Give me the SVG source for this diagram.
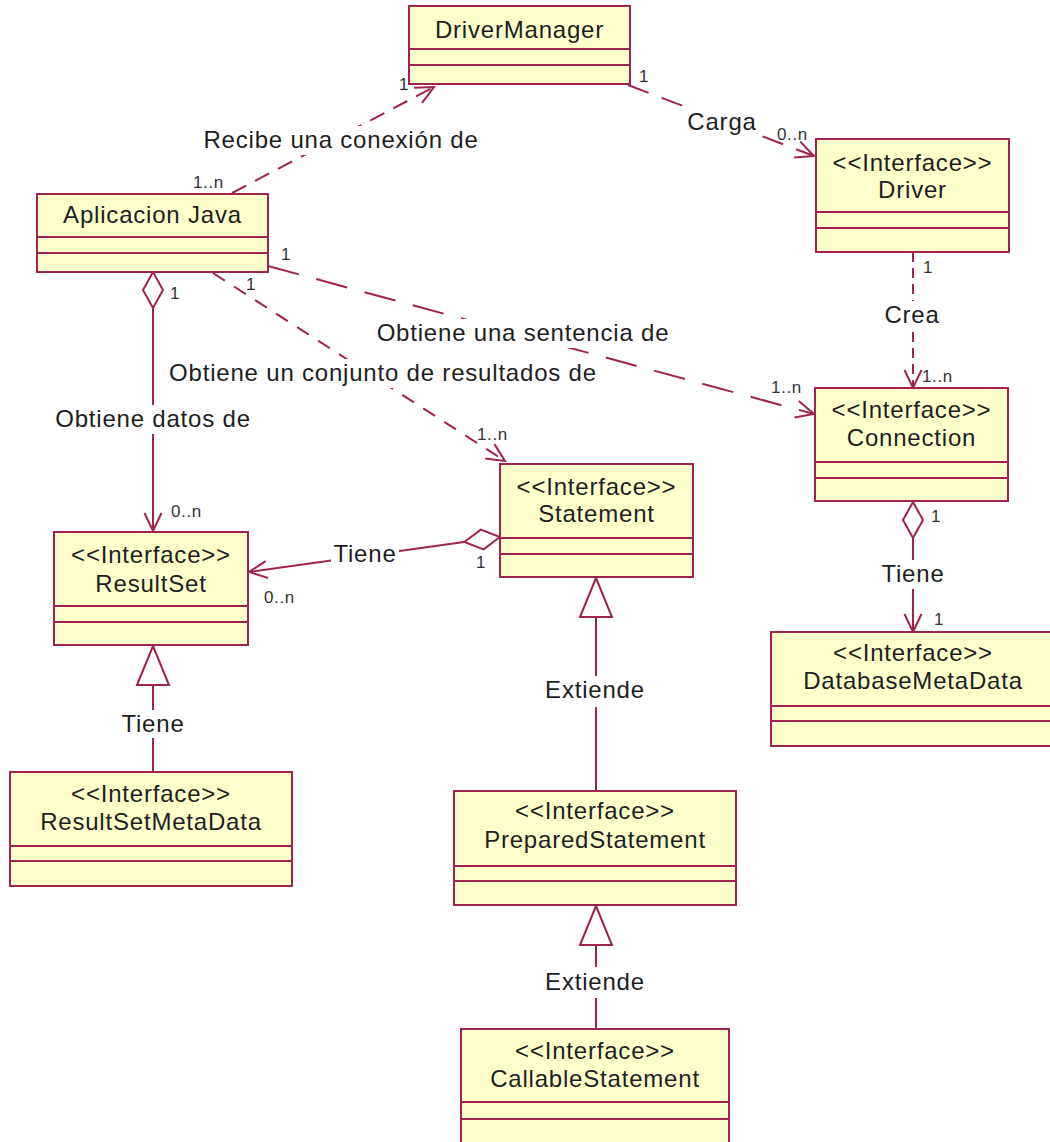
<svg xmlns="http://www.w3.org/2000/svg" width="1050" height="1142" viewBox="0 0 1050 1142">
  <style>
    .box { fill: #FFFFCC; stroke: #A0224E; stroke-width: 2; }
    .sep { stroke: #A0224E; stroke-width: 2; }
    .t { font-family: "Liberation Sans", Arial, sans-serif; font-size: 24px; fill: #1e1e1e; text-anchor: middle; letter-spacing: 0.8px; }
    .m { font-family: "Liberation Sans", Arial, sans-serif; font-size: 17px; fill: #333333; letter-spacing: 0.6px; }
    .ln { fill: none; stroke: #A0224E; stroke-width: 2; }
    .bg { fill: #FFFFFF; }
  </style>
  <defs>
    <!-- open arrowhead for navigable ends -->
    <marker id="open" markerUnits="userSpaceOnUse" markerWidth="24" markerHeight="24" refX="18" refY="8.5" orient="auto" overflow="visible">
      <path d="M0,0 L18,8.5 L0,17" fill="none" stroke="#A0224E" stroke-width="2" stroke-dasharray="none"/>
    </marker>
    <!-- hollow diamond for aggregation -->
    <marker id="diamond" markerUnits="userSpaceOnUse" markerWidth="40" markerHeight="24" refX="0" refY="10" orient="auto" overflow="visible">
      <path d="M0,10 L18,0 L36,10 L18,20 Z" fill="#FFFFFF" stroke="#A0224E" stroke-width="2"/>
    </marker>
    <!-- hollow triangle for generalization -->
    <marker id="hollow" markerUnits="userSpaceOnUse" markerWidth="42" markerHeight="34" refX="39" refY="16" orient="auto" overflow="visible">
      <path d="M0,0 L39,16 L0,32 Z" fill="#FFFFFF" stroke="#A0224E" stroke-width="2"/>
    </marker>
  </defs>

  <rect width="1050" height="1142" fill="#FFFFFF"/>

  <g id="connectors">
    <!-- dependencies -->
    <path class="ln" d="M232,193 L434,87" stroke-dasharray="16 10" marker-end="url(#open)"/>
    <path class="ln" d="M628,85 L814,156" stroke-dasharray="22 14" marker-end="url(#open)"/>
    <path class="ln" d="M913,252 L913,388" stroke-dasharray="10 6" marker-end="url(#open)"/>
    <path class="ln" d="M268,266 L814,414" stroke-dasharray="32 18" marker-end="url(#open)"/>
    <path class="ln" d="M213,273 L505,461" stroke-dasharray="14 11" marker-end="url(#open)"/>
    <!-- aggregations -->
    <path class="ln" d="M153,272 L153,531" marker-start="url(#diamond)" marker-end="url(#open)"/>
    <path class="ln" d="M500,537 L249,572" marker-start="url(#diamond)" marker-end="url(#open)"/>
    <path class="ln" d="M913,502 L913,632" marker-start="url(#diamond)" marker-end="url(#open)"/>
    <!-- generalizations -->
    <path class="ln" d="M153,771 L153,646" marker-end="url(#hollow)"/>
    <path class="ln" d="M596,790 L596,578" marker-end="url(#hollow)"/>
    <path class="ln" d="M596,1029 L596,906" marker-end="url(#hollow)"/>

    <!-- label backgrounds break the lines -->
    <rect class="bg" x="201" y="126" width="280" height="29"/>
    <rect class="bg" x="684" y="108" width="76" height="29"/>
    <rect class="bg" x="884" y="301" width="58" height="29"/>
    <rect class="bg" x="377" y="319" width="292" height="29"/>
    <rect class="bg" x="169" y="359" width="428" height="29"/>
    <rect class="bg" x="54" y="405" width="198" height="29"/>
    <rect class="bg" x="331" y="540" width="68" height="29"/>
    <rect class="bg" x="879" y="560" width="68" height="29"/>
    <rect class="bg" x="119" y="710" width="68" height="28"/>
    <rect class="bg" x="545" y="676" width="100" height="31"/>
    <rect class="bg" x="545" y="967" width="100" height="31"/>

    <!-- association labels -->
    <text class="t" x="341" y="148">Recibe una conexión de</text>
    <text class="t" x="722" y="130">Carga</text>
    <text class="t" x="912" y="323">Crea</text>
    <text class="t" x="523" y="341">Obtiene una sentencia de</text>
    <text class="t" x="383" y="381">Obtiene un conjunto de resultados de</text>
    <text class="t" x="153" y="427">Obtiene datos de</text>
    <text class="t" x="365" y="562">Tiene</text>
    <text class="t" x="913" y="582">Tiene</text>
    <text class="t" x="153" y="732">Tiene</text>
    <text class="t" x="595" y="698">Extiende</text>
    <text class="t" x="595" y="990">Extiende</text>

    <!-- multiplicities -->
    <text class="m" x="193" y="188">1..n</text>
    <text class="m" x="399" y="90">1</text>
    <text class="m" x="639" y="82">1</text>
    <text class="m" x="777" y="140">0..n</text>
    <text class="m" x="923" y="273">1</text>
    <text class="m" x="922" y="382">1..n</text>
    <text class="m" x="771" y="393">1..n</text>
    <text class="m" x="281" y="260">1</text>
    <text class="m" x="246" y="290">1</text>
    <text class="m" x="170" y="299">1</text>
    <text class="m" x="477" y="440">1..n</text>
    <text class="m" x="171" y="517">0..n</text>
    <text class="m" x="264" y="603">0..n</text>
    <text class="m" x="476" y="568">1</text>
    <text class="m" x="931" y="522">1</text>
    <text class="m" x="934" y="625">1</text>
  </g>

  <g id="DriverManager">
    <rect class="box" x="409" y="6" width="221" height="78"/>
    <line class="sep" x1="409" y1="49" x2="630" y2="49"/>
    <line class="sep" x1="409" y1="65" x2="630" y2="65"/>
    <text class="t" x="519.5" y="38">DriverManager</text>
  </g>

  <g id="AplicacionJava">
    <rect class="box" x="37" y="194" width="231" height="78"/>
    <line class="sep" x1="37" y1="237" x2="268" y2="237"/>
    <line class="sep" x1="37" y1="253" x2="268" y2="253"/>
    <text class="t" x="152.5" y="223">Aplicacion Java</text>
  </g>

  <g id="Driver">
    <rect class="box" x="816" y="139" width="193" height="113"/>
    <line class="sep" x1="816" y1="212" x2="1009" y2="212"/>
    <line class="sep" x1="816" y1="228" x2="1009" y2="228"/>
    <text class="t" x="912.5" y="171">&lt;&lt;Interface&gt;&gt;</text>
    <text class="t" x="912.5" y="198">Driver</text>
  </g>

  <g id="Connection">
    <rect class="box" x="815" y="388" width="193" height="113"/>
    <line class="sep" x1="815" y1="462" x2="1008" y2="462"/>
    <line class="sep" x1="815" y1="478" x2="1008" y2="478"/>
    <text class="t" x="911.5" y="418">&lt;&lt;Interface&gt;&gt;</text>
    <text class="t" x="911.5" y="446">Connection</text>
  </g>

  <g id="Statement">
    <rect class="box" x="500" y="464" width="193" height="113"/>
    <line class="sep" x1="500" y1="538" x2="693" y2="538"/>
    <line class="sep" x1="500" y1="554" x2="693" y2="554"/>
    <text class="t" x="596.5" y="495">&lt;&lt;Interface&gt;&gt;</text>
    <text class="t" x="596.5" y="522">Statement</text>
  </g>

  <g id="ResultSet">
    <rect class="box" x="54" y="532" width="194" height="113"/>
    <line class="sep" x1="54" y1="606" x2="248" y2="606"/>
    <line class="sep" x1="54" y1="622" x2="248" y2="622"/>
    <text class="t" x="151" y="563">&lt;&lt;Interface&gt;&gt;</text>
    <text class="t" x="151" y="592">ResultSet</text>
  </g>

  <g id="DatabaseMetaData">
    <rect class="box" x="771" y="632" width="285" height="114"/>
    <line class="sep" x1="771" y1="706" x2="1056" y2="706"/>
    <line class="sep" x1="771" y1="721" x2="1056" y2="721"/>
    <text class="t" x="913" y="661">&lt;&lt;Interface&gt;&gt;</text>
    <text class="t" x="913" y="689">DatabaseMetaData</text>
  </g>

  <g id="ResultSetMetaData">
    <rect class="box" x="10" y="772" width="282" height="114"/>
    <line class="sep" x1="10" y1="846" x2="292" y2="846"/>
    <line class="sep" x1="10" y1="861" x2="292" y2="861"/>
    <text class="t" x="151" y="802">&lt;&lt;Interface&gt;&gt;</text>
    <text class="t" x="151" y="830">ResultSetMetaData</text>
  </g>

  <g id="PreparedStatement">
    <rect class="box" x="454" y="791" width="282" height="114"/>
    <line class="sep" x1="454" y1="866" x2="736" y2="866"/>
    <line class="sep" x1="454" y1="881" x2="736" y2="881"/>
    <text class="t" x="595" y="819">&lt;&lt;Interface&gt;&gt;</text>
    <text class="t" x="595" y="848">PreparedStatement</text>
  </g>

  <g id="CallableStatement">
    <rect class="box" x="461" y="1029" width="268" height="114"/>
    <line class="sep" x1="461" y1="1102" x2="729" y2="1102"/>
    <line class="sep" x1="461" y1="1119" x2="729" y2="1119"/>
    <text class="t" x="595" y="1059">&lt;&lt;Interface&gt;&gt;</text>
    <text class="t" x="595" y="1087">CallableStatement</text>
  </g>
</svg>
